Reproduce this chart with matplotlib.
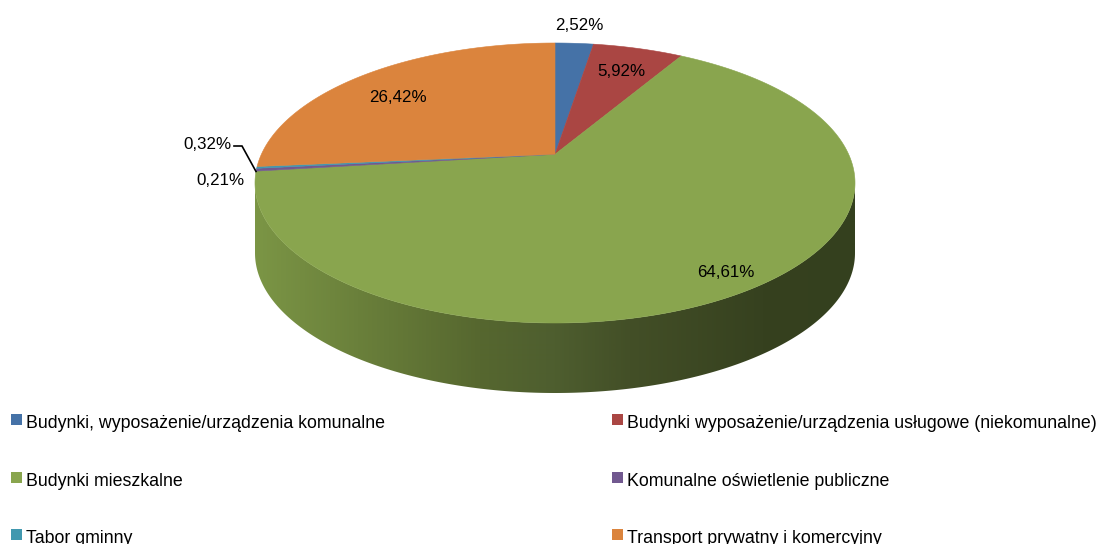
import numpy as np
import matplotlib
matplotlib.use('Agg')
import matplotlib.pyplot as plt
from matplotlib.patches import Polygon, Rectangle
from matplotlib.colors import LinearSegmentedColormap, to_rgb

# ---------------- data ----------------
categories = [
    'Budynki, wyposażenie/urządzenia komunalne',
    'Budynki wyposażenie/urządzenia usługowe (niekomunalne)',
    'Budynki mieszkalne',
    'Komunalne oświetlenie publiczne',
    'Tabor gminny',
    'Transport prywatny i komercyjny',
]
values = [2.52, 5.92, 64.61, 0.32, 0.21, 26.42]
value_labels = ['2,52%', '5,92%', '64,61%', '0,32%', '0,21%', '26,42%']
colors = ['#4572A7', '#AA4643', '#89A54E', '#71588F', '#4198AF', '#DB843D']

# ---------------- layout ----------------
W, H = 1102, 544
FONT = 'Liberation Sans'
fig = plt.figure(figsize=(W / 100, H / 100), dpi=100)
ax = fig.add_axes([0, 0, 1, 1])
ax.set_xlim(0, W)
ax.set_ylim(H, 0)
ax.axis('off')

cx, cy_ell = 555, 183      # centre of projected outline
a, b = 300, 140            # outline semi-axes
k = 0.205                  # perspective strength
R = a * np.sqrt(1 - k ** 2)
S = b * (1 - k ** 2)
cyc = cy_ell - b * k       # projected pie centre
depth = 70


def proj(theta_deg):
    t = np.radians(theta_deg)
    X, Y = np.sin(t), np.cos(t)
    d = 1 + k * Y
    return cx + R * X / d, cyc - S * Y / d


total = float(sum(values))
bounds = np.concatenate([[0], np.cumsum(values)]) / total * 360.0

# visible side range
th_r = np.degrees(np.arccos(-k))
th_l = 360 - th_r

# shading stops for the side (left -> right), relative to the green top colour
stops = [(0.0, '#7b9545'), (0.375, '#56672f'), (0.5, '#4e5e2f'),
         (0.625, '#434f27'), (0.85, '#36411f'), (1.0, '#34401e')]
green = np.array(to_rgb('#89A54E'))

for i in range(len(values)):
    s, e = max(bounds[i], th_r), min(bounds[i + 1], th_l)
    if e <= s:
        continue
    th = np.linspace(s, e, 400)
    xs, ys = proj(th)
    pts = list(zip(xs, ys)) + list(zip(xs[::-1], ys[::-1] + depth))
    poly = Polygon(pts, closed=True, facecolor='none', edgecolor='none')
    ax.add_patch(poly)
    ratio = np.array(to_rgb(colors[i])) / green
    cmap = LinearSegmentedColormap.from_list(
        'side%d' % i, [(p, tuple(np.clip(np.array(to_rgb(c)) * ratio, 0, 1))) for p, c in stops])
    grad = np.linspace(0, 1, 600)[None, :]
    im = ax.imshow(grad, cmap=cmap, aspect='auto', extent=[cx - a, cx + a, 400, 40],
                   interpolation='bilinear', zorder=1)
    im.set_clip_path(poly)
    ax.set_xlim(0, W)
    ax.set_ylim(H, 0)

# top faces
for i in range(len(values)):
    th = np.linspace(bounds[i], bounds[i + 1], max(int((bounds[i + 1] - bounds[i]) * 3), 4))
    xs, ys = proj(th)
    pts = [(cx, cyc)] + list(zip(xs, ys))
    ax.add_patch(Polygon(pts, closed=True, facecolor=colors[i], edgecolor=colors[i],
                         linewidth=0.4, zorder=3))

# value labels (left x, baseline y)
label_pos = [(555, 30.5), (597, 76), (697, 277), (183, 149), (196, 185), (369, 102)]
for lab, (x, y) in zip(value_labels, label_pos):
    ax.text(x, y, lab, ha='left', va='baseline', fontsize=12.2, family=FONT,
            color='black', zorder=5)

# leader line for 0,32%
ax.plot([234, 242, 256], [146, 146, 171.5], color='black', lw=1.2, zorder=5,
        solid_joinstyle='miter')

# legend
leg_pos = [(11, 428), (612, 428), (11, 485.5), (612, 485.5), (11, 543), (612, 543)]
for cat, col, (x, y) in zip(categories, colors, leg_pos):
    ax.add_patch(Rectangle((x, y - 14), 11, 11, facecolor=col, edgecolor='none', zorder=5))
    ax.text(x + 15, y, cat, ha='left', va='baseline', fontsize=12.8, family=FONT,
            color='black', zorder=5)

ax.set_xlim(0, W)
ax.set_ylim(H, 0)
fig.savefig('out.png', dpi=100)
